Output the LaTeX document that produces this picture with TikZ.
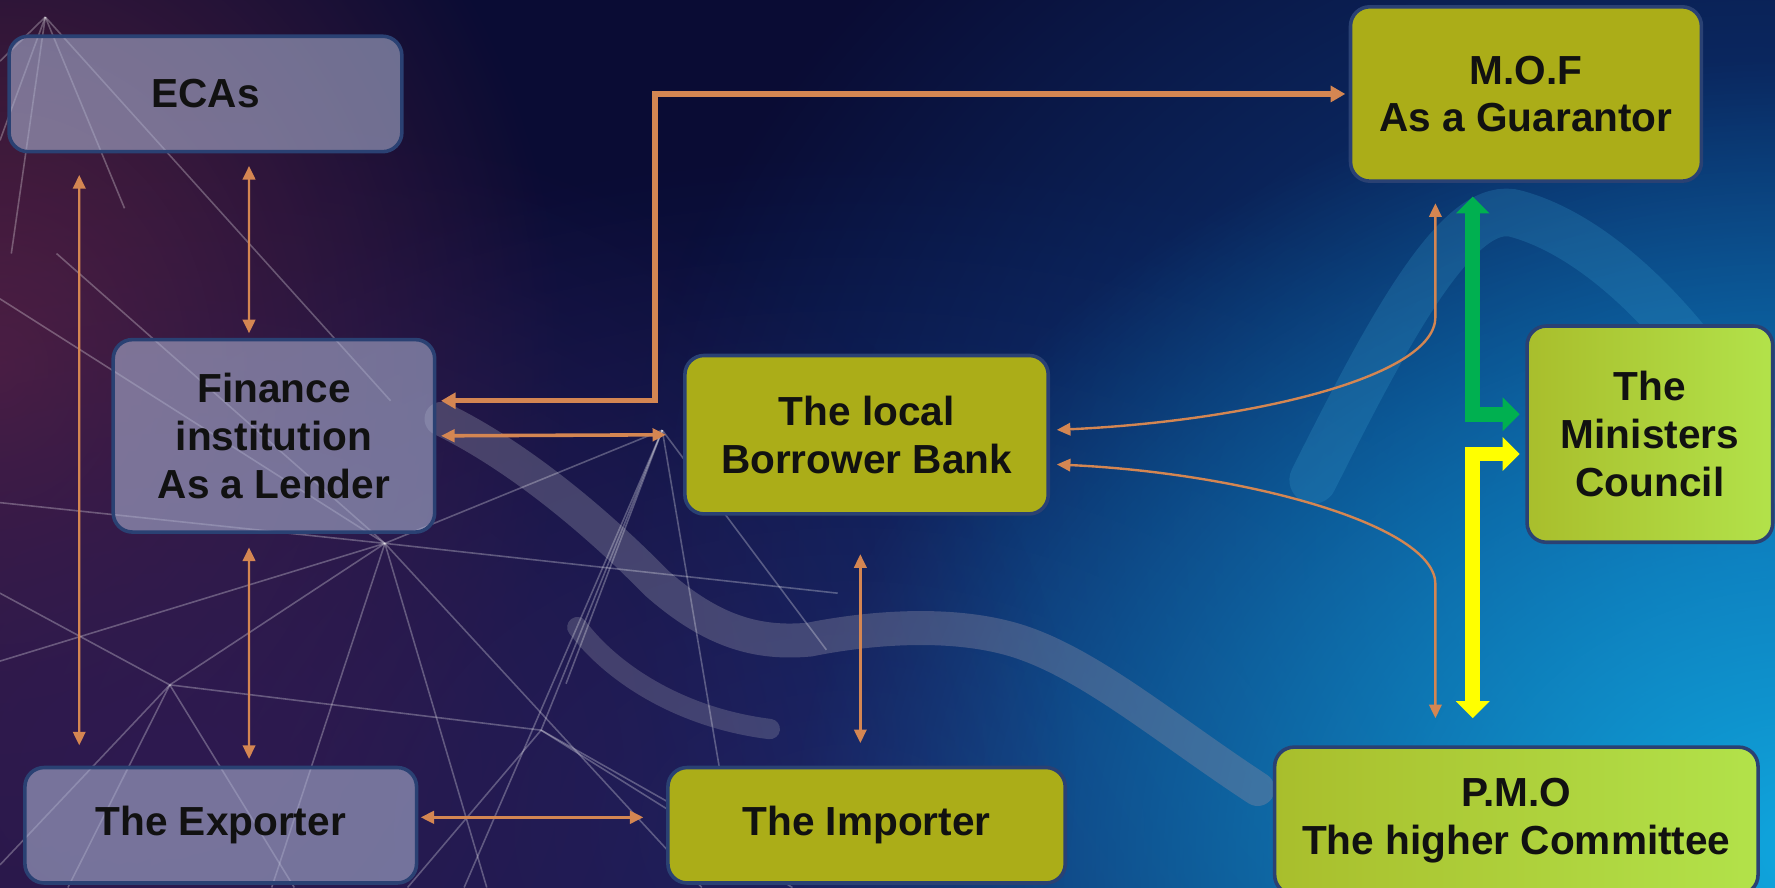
\documentclass[tikz,border=0pt]{standalone}
\usepackage{fontspec}
\setmainfont{Liberation Sans}
\usetikzlibrary{arrows.meta,fadings}

\definecolor{bgdark}{HTML}{0A0C34}
\definecolor{bgcyan}{HTML}{10A8E0}
\definecolor{bgblue}{HTML}{0A4690}
\definecolor{bgred}{HTML}{6E2640}
\definecolor{bgpurple}{HTML}{2E1A50}
\definecolor{bgmid}{HTML}{18286E}
\definecolor{edge}{HTML}{2A4173}
\definecolor{lav}{HTML}{A9AFCF}
\definecolor{olive1}{HTML}{ABAD18}
\definecolor{lime1}{HTML}{A9BE2C}
\definecolor{lime2}{HTML}{B2E24A}
\definecolor{ink}{HTML}{111111}
\definecolor{tan1}{RGB}{212,134,82}
\definecolor{grn}{HTML}{00B050}
\definecolor{ylw}{HTML}{FFFF00}
\definecolor{wavegray}{HTML}{8A8AA2}
\definecolor{waveteal}{HTML}{3AA0D0}

\tikzfading[name=glow, inner color=transparent!0, outer color=transparent!100]

\begin{document}
\begin{tikzpicture}[
  box/.style={draw=edge, line width=0.9pt, rounded corners=0.17cm, inner sep=0pt,
    align=center, text=ink, font=\fontsize{10.2}{12}\selectfont\bfseries},
  grayblock/.style={box, fill=lav, fill opacity=0.6, text opacity=1},
  oliveblock/.style={box, fill=olive1},
  limeblock/.style={box, left color=lime1, right color=lime2},
  link/.style={draw=tan1, line width=0.6pt, >={Triangle[length=0.12cm,width=0.11cm]}, <->},
  midlink/.style={link, line width=0.9pt},
  trunk/.style={draw=tan1, line width=1.3pt, >={Triangle[length=0.13cm,width=0.14cm]}, <->},
  bar/.style={line width=0.13cm, line join=miter, >={Triangle[length=0.15cm,width=0.29cm]}, <->},
  net/.style={draw=white, line width=0.4pt, opacity=0.28},
  wave/.style={line cap=round}]

  \useasboundingbox (0,0) rectangle (15.68,7.84);
  \clip (0,0) rectangle (15.68,7.84);

  % background
  \fill[bgdark] (0,0) rectangle (15.68,7.84);
  \fill[bgmid, path fading=glow, opacity=0.9] (7.5,0.5) ellipse (9 and 6);
  \fill[bgblue, path fading=glow] (15.5,3.0) ellipse (10 and 8);
  \fill[bgcyan, path fading=glow] (16.0,0.3) ellipse (9 and 7);
  \fill[bgred, path fading=glow, opacity=0.8] (0,4.6) ellipse (5 and 6);
  \fill[bgpurple, path fading=glow] (1.5,1.0) ellipse (8 and 6);

  \draw[wave, draw=wavegray, line width=0.3cm, opacity=0.38]
    (3.9,4.14) .. controls (4.6,3.8) and (5.3,3.2) .. (5.8,2.69)
    .. controls (6.3,2.25) and (6.7,2.15) .. (7.15,2.19)
    .. controls (7.7,2.3) and (8.4,2.35) .. (8.95,2.19)
    .. controls (9.6,2.0) and (10.3,1.4) .. (11.11,0.87);
  \draw[wave, draw=wavegray, line width=0.18cm, opacity=0.34]
    (5.1,2.3) .. controls (5.4,1.9) and (6.0,1.5) .. (6.8,1.4);
  \draw[wave, draw=waveteal, line width=0.42cm, opacity=0.24]
    (11.6,3.6) .. controls (12.3,5.0) and (12.9,6.1) .. (13.4,5.95)
    .. controls (14.3,5.7) and (15.2,4.6) .. (15.68,3.6);

  \foreach \a/\b/\c/\d in {0.40/7.69/0/7.3, 0.40/7.69/0.1/5.6, 0.40/7.69/3.45/4.3,
      0.40/7.69/1.1/6.0, 0.40/7.69/0/6.6, 3.40/3.04/0/5.2, 3.40/3.04/0/2.0,
      3.40/3.04/0.5/5.6, 3.40/3.04/5.85/4.04, 3.40/3.04/7.4/2.6,
      3.40/3.04/6.2/0, 3.40/3.04/4.3/0, 3.40/3.04/2.4/0, 3.40/3.04/0/3.4,
      5.85/4.04/4.1/0, 5.85/4.04/7.3/2.1, 5.85/4.04/6.5/0.2, 5.85/4.04/5.0/1.8,
      1.50/1.79/0/2.6, 1.50/1.79/0/0.2, 1.50/1.79/4.78/1.39, 1.50/1.79/2.6/0,
      1.50/1.79/3.40/3.04, 1.50/1.79/0.6/0, 4.78/1.39/3.6/0, 4.78/1.39/6.0/0.7,
      4.78/1.39/5.85/4.04, 4.78/1.39/7.0/0}
    \draw[net] (\a,\b) -- (\c,\d);

  % boxes
  \node[grayblock, minimum width=3.47cm, minimum height=1.02cm] (ecas) at (1.815,7.01) {ECAs};
  \node[grayblock, minimum width=2.84cm, minimum height=1.70cm] (lender) at (2.42,3.99)
    {Finance\\institution\\As a Lender};
  \node[grayblock, minimum width=3.46cm, minimum height=1.02cm] (exporter) at (1.95,0.55)
    {The Exporter};
  \node[oliveblock, minimum width=3.21cm, minimum height=1.40cm] (bank) at (7.655,4.00)
    {The local\\Borrower Bank};
  \node[oliveblock, minimum width=3.51cm, minimum height=1.02cm] (importer) at (7.655,0.55)
    {The Importer};
  \node[oliveblock, minimum width=3.10cm, minimum height=1.54cm] (mof) at (13.48,7.01)
    {M.O.F\\As a Guarantor};
  \node[limeblock, minimum width=2.17cm, minimum height=1.91cm] (council) at (14.575,4.005)
    {The\\Ministers\\Council};
  \node[limeblock, minimum width=4.27cm, minimum height=1.30cm] (pmo) at (13.395,0.59)
    {P.M.O\\The higher Committee};

  % links
  \draw[link, shorten <=0.19cm, shorten >=0.18cm]
    ([xshift=-1.115cm]ecas.south) -- ([xshift=-1.25cm]exporter.north);
  \draw[link, shorten <=0.11cm, shorten >=0.04cm]
    ([xshift=0.385cm]ecas.south) -- ([xshift=-0.22cm]lender.north);
  \draw[link, shorten <=0.12cm, shorten >=0.06cm]
    ([xshift=-0.22cm]lender.south) -- ([xshift=0.25cm]exporter.north);
  \draw[midlink, shorten <=0.04cm, shorten >=0.15cm] (lender.east) -- (bank.west);
  \draw[trunk, shorten <=0.04cm, shorten >=0.03cm]
    ([yshift=0.31cm]lender.east) -- ++(1.93,0) |- (mof.west);
  \draw[midlink, shorten <=0.02cm, shorten >=0.20cm]
    ([yshift=0.07cm]exporter.east) -- ([yshift=0.07cm]importer.west);
  \draw[link, shorten <=0.34cm, shorten >=0.20cm]
    ([xshift=-0.055cm]bank.south) -- ([xshift=-0.055cm]importer.north);
  \draw[link, shorten <=0.06cm, shorten >=0.18cm]
    ([yshift=0.04cm]bank.east) .. controls (11.0,4.12) and (12.68,4.5) .. (12.68,5.04)
    -- ([xshift=-0.8cm]mof.south);
  \draw[link, shorten <=0.06cm, shorten >=0.24cm]
    ([yshift=-0.26cm]bank.east) .. controls (11.0,3.66) and (12.68,3.2) .. (12.68,2.68)
    -- ([xshift=-0.715cm]pmo.north);
  \draw[bar, draw=grn, shorten <=0.12cm, shorten >=0.05cm]
    ([xshift=-0.47cm]mof.south) |- ([yshift=0.175cm]council.west);
  \draw[bar, draw=ylw, shorten <=0.24cm, shorten >=0.05cm]
    ([xshift=-0.385cm]pmo.north) |- ([yshift=-0.175cm]council.west);

\end{tikzpicture}
\end{document}
